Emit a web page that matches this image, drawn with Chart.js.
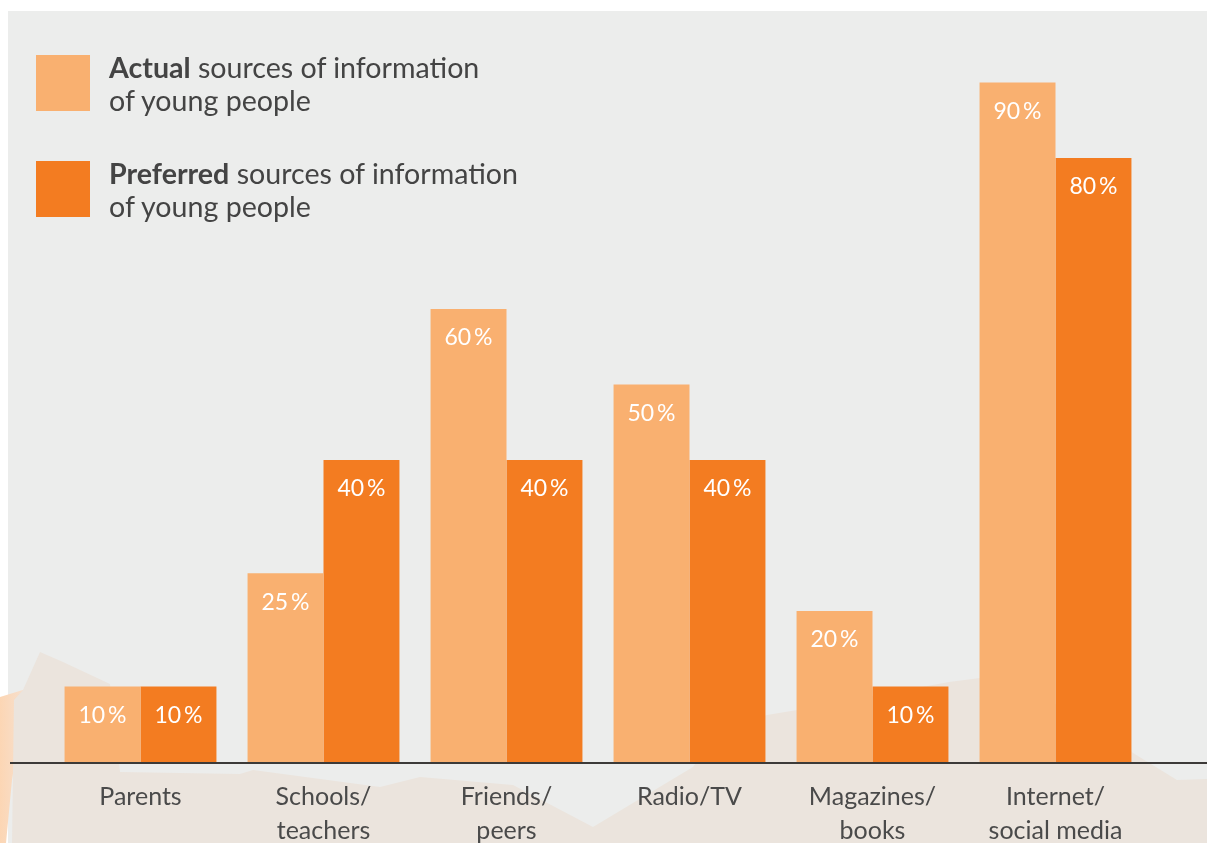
<!DOCTYPE html>
<html lang="en">
<head>
    <meta charset="UTF-8">
    <title>Sources of information of young people</title>
    <style>
        * {
            margin: 0;
            padding: 0;
            box-sizing: border-box;
        }

        body {
            width: 1207px;
            height: 843px;
            background: #fff;
            font-family: 'Lato', sans-serif;
            overflow: hidden;
        }

        .chart-wrap {
            position: relative;
            width: 1207px;
            height: 843px;
        }

        /* Legend sits over the top left of the chart */
        .legend {
            position: absolute;
            left: 36px;
            top: 55px;
            color: #444;
        }

        .legend-item {
            display: flex;
            align-items: flex-start;
            height: 106px;
        }

        .legend-item .swatch {
            width: 54px;
            height: 56px;
            flex: none;
        }

        .legend-item .text {
            margin-left: 19px;
            font-size: 28.6px;
            line-height: 33px;
            margin-top: -4px;
        }

        .legend-item .text b {
            font-weight: 700;
        }
    </style>
    <script src="https://cdn.jsdelivr.net/npm/chart.js"></script>
</head>
<body>
    <div class="chart-wrap">
        <canvas id="sourcesChart"></canvas>
        <div class="legend" id="legend"></div>
    </div>
    <script>
        // Data
        const categories = [
            ['Parents'],
            ['Schools/', 'teachers'],
            ['Friends/', 'peers'],
            ['Radio/TV'],
            ['Magazines/', 'books'],
            ['Internet/', 'social media']
        ];
        const actualValues = [10, 25, 60, 50, 20, 90];
        const preferredValues = [10, 40, 40, 40, 10, 80];
        const seriesBold = ['Actual', 'Preferred'];
        const seriesRest = ['sources of information', 'of young people'];
        const seriesColors = ['#F9B070', '#F37C21'];

        // Legend
        const legend = document.getElementById('legend');
        seriesBold.forEach((name, i) => {
            const item = document.createElement('div');
            item.className = 'legend-item';
            item.innerHTML = '<div class="swatch" style="background:' + seriesColors[i] + '"></div>' +
                '<div class="text"><b>' + name + '</b> ' + seriesRest[0] + '<br>' + seriesRest[1] + '</div>';
            legend.appendChild(item);
        });

        // Grey panel and the pale mountain shape behind the bars
        const backdrop = {
            id: 'backdrop',
            beforeDraw(chart) {
                const ctx = chart.ctx;
                ctx.save();
                ctx.fillStyle = '#ECEDEC';
                ctx.fillRect(8, 11, chart.width - 8, chart.height - 11);

                const glow = ctx.createLinearGradient(0, 0, 30, 0);
                glow.addColorStop(0, '#FCD6B4');
                glow.addColorStop(1, '#F5E2D4');
                ctx.fillStyle = glow;
                ctx.beginPath();
                ctx.moveTo(0, 697);
                ctx.lineTo(26, 689);
                ctx.lineTo(12, 780);
                ctx.lineTo(6, 843);
                ctx.lineTo(0, 843);
                ctx.closePath();
                ctx.fill();

                ctx.fillStyle = '#EBE4DD';
                ctx.beginPath();
                ctx.moveTo(14, 700);
                ctx.lineTo(23, 690);
                ctx.lineTo(40, 652);
                ctx.lineTo(63, 662);
                ctx.lineTo(110, 684);
                ctx.lineTo(120, 772);
                ctx.lineTo(240, 774);
                ctx.lineTo(253, 770);
                ctx.lineTo(380, 787);
                ctx.lineTo(420, 777);
                ctx.lineTo(513, 785);
                ctx.lineTo(593, 827);
                ctx.lineTo(693, 767);
                ctx.lineTo(720, 730);
                ctx.lineTo(767, 715);
                ctx.lineTo(797, 710);
                ctx.lineTo(949, 682);
                ctx.lineTo(980, 678);
                ctx.lineTo(1100, 720);
                ctx.lineTo(1133, 753);
                ctx.lineTo(1177, 780);
                ctx.lineTo(chart.width, 779);
                ctx.lineTo(chart.width, chart.height);
                ctx.lineTo(12, chart.height);
                ctx.closePath();
                ctx.fill();
                ctx.restore();
            },
            afterDatasetsDraw(chart) {
                const ctx = chart.ctx;
                const y0 = chart.scales.y.getPixelForValue(0);
                ctx.save();
                // baseline across the whole panel
                ctx.strokeStyle = '#3c3a38';
                ctx.lineWidth = 2;
                ctx.beginPath();
                ctx.moveTo(10, y0 + 1);
                ctx.lineTo(chart.width, y0 + 1);
                ctx.stroke();

                // value labels inside the bars
                ctx.fillStyle = '#fff';
                ctx.font = '23px Lato';
                ctx.textAlign = 'center';
                ctx.textBaseline = 'middle';
                chart.data.datasets.forEach((ds, i) => {
                    chart.getDatasetMeta(i).data.forEach((bar, j) => {
                        ctx.fillText(ds.data[j] + '\u2009%', bar.x, bar.y + 29);
                    });
                });
                ctx.restore();
            }
        };

        const ctx = document.getElementById('sourcesChart').getContext('2d');
        new Chart(ctx, {
            type: 'bar',
            data: {
                labels: categories,
                datasets: [{
                    label: seriesBold[0],
                    data: actualValues,
                    backgroundColor: seriesColors[0]
                }, {
                    label: seriesBold[1],
                    data: preferredValues,
                    backgroundColor: seriesColors[1]
                }]
            },
            options: {
                responsive: true,
                maintainAspectRatio: false,
                animation: false,
                layout: {
                    padding: { left: 49, right: 60, top: 7, bottom: 0 }
                },
                plugins: {
                    legend: { display: false },
                    tooltip: { enabled: false }
                },
                datasets: {
                    bar: {
                        categoryPercentage: 0.83,
                        barPercentage: 1
                    }
                },
                scales: {
                    x: {
                        grid: { display: false, drawTicks: false },
                        border: { display: false },
                        ticks: {
                            padding: 18,
                            color: '#4a4a4a',
                            font: { family: 'Lato', size: 25, lineHeight: 1.35 }
                        },
                        afterFit(scale) {
                            scale.height = 81;
                        }
                    },
                    y: {
                        display: false,
                        min: 0,
                        max: 100
                    }
                }
            },
            plugins: [backdrop]
        });
    </script>
</body>
</html>
